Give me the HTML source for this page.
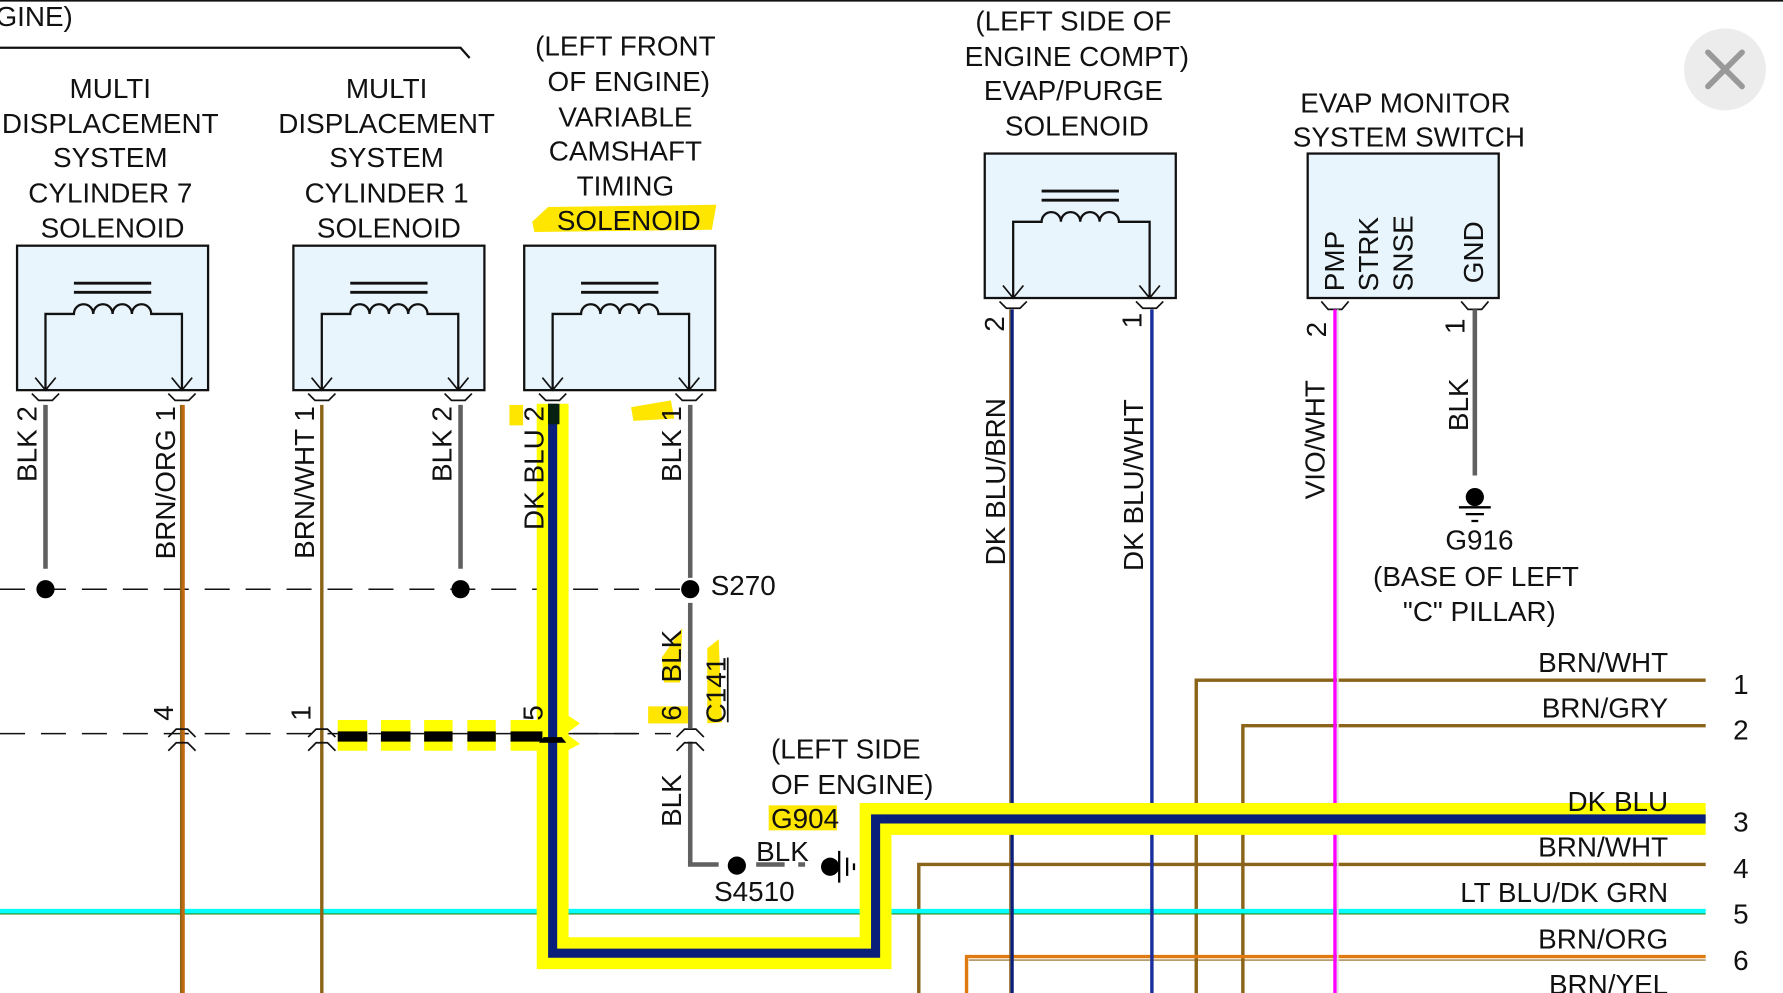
<!DOCTYPE html>
<html><head><meta charset="utf-8"><style>
html,body{margin:0;padding:0;background:#fff;overflow:hidden}
svg{display:block}
text{font-family:"Liberation Sans",sans-serif;font-size:24.5px;fill:#111}
</style></head><body>
<svg width="1783" height="993" viewBox="0 0 1568 873" preserveAspectRatio="none" xmlns="http://www.w3.org/2000/svg">
<defs>
<g id="sol">
<rect x="0" y="0" width="168" height="127" fill="#e8f5fd" stroke="#111" stroke-width="2"/>
<line x1="50" y1="33" x2="118" y2="33" stroke="#111" stroke-width="2.5"/>
<line x1="50" y1="41" x2="118" y2="41" stroke="#111" stroke-width="2.5"/>
<path d="M25 127 V60 H50 a8.5 8.5 0 0 1 17 0 a8.5 8.5 0 0 1 17 0 a8.5 8.5 0 0 1 17 0 a8.5 8.5 0 0 1 17 0 H145 V127" fill="none" stroke="#111" stroke-width="2"/>
<path d="M16 116 L25 127 L34 116 M136 116 L145 127 L154 116" fill="none" stroke="#111" stroke-width="1.5"/>
<path d="M13 130 L19 136 H31 L37 130 M133 130 L139 136 H151 L157 130" fill="none" stroke="#111" stroke-width="1.5"/>
</g>
</defs>
<line x1="0" y1="0.7" x2="1568" y2="0.7" stroke="#111" stroke-width="1.5"/>
<text x="-4" y="23">GINE)</text>
<path d="M0 42 H405 L413 51" fill="none" stroke="#111" stroke-width="2"/>

<g text-anchor="middle">
<text x="97" y="86">MULTI</text><text x="97" y="117">DISPLACEMENT</text><text x="97" y="147">SYSTEM</text><text x="97" y="178">CYLINDER 7</text><text x="99" y="209">SOLENOID</text>
<text x="340" y="86">MULTI</text><text x="340" y="117">DISPLACEMENT</text><text x="340" y="147">SYSTEM</text><text x="340" y="178">CYLINDER 1</text><text x="342" y="209">SOLENOID</text>
<text x="550" y="49">(LEFT FRONT</text><text x="553" y="80">OF ENGINE)</text><text x="550" y="111">VARIABLE</text><text x="550" y="141">CAMSHAFT</text><text x="550" y="172">TIMING</text>
<path d="M468 195 L482 182 L630 180 L626 202 L470 204 Z" fill="#ffe600"/>
<text x="553" y="202">SOLENOID</text>
<text x="944" y="27">(LEFT SIDE OF</text><text x="947" y="58">ENGINE COMPT)</text><text x="944" y="88">EVAP/PURGE</text><text x="947" y="119">SOLENOID</text>
<text x="1236" y="99">EVAP MONITOR</text><text x="1239" y="129">SYSTEM SWITCH</text>
</g>

<use href="#sol" x="15" y="216"/>
<use href="#sol" x="258" y="216"/>
<use href="#sol" x="461" y="216"/>
<use href="#sol" x="866" y="135"/>
<rect x="1150" y="135" width="168" height="127" fill="#e8f5fd" stroke="#111" stroke-width="2"/>
<path d="M1162 265 L1168 272 H1180 L1186 265 M1285 265 L1291 272 H1303 L1309 265" fill="none" stroke="#111" stroke-width="1.5"/>

<line x1="0" y1="518" x2="600" y2="518" stroke="#111" stroke-width="1.3" stroke-dasharray="22,14"/>
<line x1="0" y1="645" x2="590" y2="645" stroke="#111" stroke-width="1.3" stroke-dasharray="22,14"/>

<path d="M1052 873 V598 H1500" fill="none" stroke="#8a6418" stroke-width="3"/>
<path d="M1093 873 V638 H1500" fill="none" stroke="#8a6418" stroke-width="3"/>
<path d="M808 873 V760 H1500" fill="none" stroke="#8a6418" stroke-width="3"/>
<line x1="0" y1="801" x2="1500" y2="801" stroke="#00ffff" stroke-width="4"/>
<line x1="0" y1="803.5" x2="1500" y2="803.5" stroke="#1a8a1a" stroke-width="1"/>
<path d="M850 873 V841 H1500" fill="none" stroke="#e07a10" stroke-width="3"/>
<line x1="852" y1="844" x2="1500" y2="844" stroke="#8a6418" stroke-width="1"/>

<line x1="40" y1="356" x2="40" y2="500" stroke="#606060" stroke-width="4"/>
<line x1="161" y1="356" x2="161" y2="873" stroke="#c06a10" stroke-width="3"/>
<line x1="159" y1="356" x2="159" y2="873" stroke="#8a6418" stroke-width="1.5"/>
<line x1="283" y1="356" x2="283" y2="873" stroke="#8a6418" stroke-width="3"/>
<line x1="405" y1="356" x2="405" y2="500" stroke="#606060" stroke-width="4"/>
<line x1="607" y1="356" x2="607" y2="508" stroke="#606060" stroke-width="4"/>
<line x1="607" y1="530" x2="607" y2="640" stroke="#606060" stroke-width="4"/>
<path d="M607 652 V760 H632" fill="none" stroke="#606060" stroke-width="4"/>
<line x1="665" y1="760" x2="720" y2="760" stroke="#606060" stroke-width="4" stroke-dasharray="25,12,6,12"/>
<line x1="890" y1="272" x2="890" y2="873" stroke="#0a1f7a" stroke-width="3"/>
<line x1="888" y1="272" x2="888" y2="873" stroke="#8a6418" stroke-width="1"/>
<line x1="1013" y1="272" x2="1013" y2="873" stroke="#1a2e9a" stroke-width="3"/>
<line x1="1174" y1="272" x2="1174" y2="873" stroke="#ff00ff" stroke-width="3"/>
<line x1="1176.5" y1="272" x2="1176.5" y2="873" stroke="#ddd" stroke-width="1.5"/>
<line x1="1297" y1="272" x2="1297" y2="418" stroke="#606060" stroke-width="4"/>

<path d="M486 355 V838 H770 V720 H1500" fill="none" stroke="#ffff00" stroke-width="28"/>
<path d="M486 355 V838 H770 V720 H1500" fill="none" stroke="#0a1f7a" stroke-width="8"/>
<rect x="482" y="355" width="10" height="18" fill="#062012"/>

<circle cx="40" cy="518" r="8" fill="#000"/>
<circle cx="405" cy="518" r="8" fill="#000"/>
<circle cx="607" cy="518" r="8" fill="#000"/>
<circle cx="648" cy="761" r="8" fill="#000"/>
<text x="625" y="523">S270</text>
<text x="628" y="792">S4510</text>
<circle cx="730" cy="762" r="8" fill="#000"/>
<path d="M738 748 V776 M745 754 V770 M751 759 V765" stroke="#000" stroke-width="2"/>
<circle cx="1297" cy="437" r="8" fill="#000"/>
<path d="M1283 446 H1311 M1289 452 H1305 M1294 458 H1300" stroke="#000" stroke-width="2"/>
<text x="1301" y="483" text-anchor="middle">G916</text>
<text x="1298" y="515" text-anchor="middle">(BASE OF LEFT</text>
<text x="1301" y="546" text-anchor="middle">"C" PILLAR)</text>

<path d="M148 648 L155 641 H165 L172 648 M148 660 L155 653 H165 L172 660" fill="none" stroke="#111" stroke-width="1.5"/>
<path d="M271 648 L278 641 H288 L295 648 M271 660 L278 653 H288 L295 660" fill="none" stroke="#111" stroke-width="1.5"/>
<path d="M595 648 L602 641 H612 L619 648 M595 660 L602 653 H612 L619 660" fill="none" stroke="#111" stroke-width="1.5"/>
<g fill="#ffff00">
<rect x="297" y="633" width="26" height="27"/><rect x="335" y="633" width="26" height="27"/><rect x="373" y="633" width="25" height="27"/><rect x="411" y="633" width="25" height="27"/><rect x="449" y="633" width="28" height="27"/>
<path d="M495 626 L510 636 L498 645 L510 654 L495 662 Z"/>
</g>
<g fill="#000">
<rect x="297" y="643" width="26" height="9"/><rect x="335" y="643" width="26" height="9"/><rect x="373" y="643" width="25" height="9"/><rect x="411" y="643" width="25" height="9"/><rect x="449" y="643" width="28" height="9"/>
<path d="M474 653 L478 648 H494 L498 653 Z"/>
</g>
<line x1="500" y1="645" x2="560" y2="645" stroke="#111" stroke-width="1.3"/>

<g fill="#ffe600">
<rect x="448" y="356" width="12" height="18"/>
<path d="M555 358 L590 352 L593 368 L557 370 Z"/>
<path d="M582 578 L600 552 L598 600 L584 600 Z"/>
<path d="M622 570 L632 562 L635 635 L622 636 Z"/>
<rect x="570" y="621" width="35" height="15"/>
<rect x="676" y="708" width="60" height="22"/>
</g>

<g>
<text transform="translate(32,357) rotate(-90)" text-anchor="end">BLK 2</text>
<text transform="translate(154,357) rotate(-90)" text-anchor="end">BRN/ORG 1</text>
<text transform="translate(276,357) rotate(-90)" text-anchor="end">BRN/WHT 1</text>
<text transform="translate(397,357) rotate(-90)" text-anchor="end">BLK 2</text>
<text transform="translate(478,357) rotate(-90)" text-anchor="end">DK BLU 2</text>
<text transform="translate(599,357) rotate(-90)" text-anchor="end">BLK 1</text>
<text transform="translate(152,620) rotate(-90)" text-anchor="end">4</text>
<text transform="translate(273,620) rotate(-90)" text-anchor="end">1</text>
<text transform="translate(477,620) rotate(-90)" text-anchor="end">5</text>
<text transform="translate(599,620) rotate(-90)" text-anchor="end">6</text>
<text transform="translate(599,600) rotate(-90)">BLK</text>
<text transform="translate(638,636) rotate(-90)">C141</text>
<text transform="translate(599,727) rotate(-90)">BLK</text>
<text transform="translate(883,278) rotate(-90)" text-anchor="end">2</text>
<text transform="translate(884,497) rotate(-90)">DK BLU/BRN</text>
<text transform="translate(1004,275) rotate(-90)" text-anchor="end">1</text>
<text transform="translate(1005,502) rotate(-90)">DK BLU/WHT</text>
<text transform="translate(1166,283) rotate(-90)" text-anchor="end">2</text>
<text transform="translate(1165,439) rotate(-90)">VIO/WHT</text>
<text transform="translate(1288,280) rotate(-90)" text-anchor="end">1</text>
<text transform="translate(1291,379) rotate(-90)">BLK</text>
<text transform="translate(1182,256) rotate(-90)">PMP</text>
<text transform="translate(1212,256) rotate(-90)">STRK</text>
<text transform="translate(1242,256) rotate(-90)">SNSE</text>
<text transform="translate(1304,249) rotate(-90)">GND</text>
</g>
<line x1="640" y1="578" x2="640" y2="635" stroke="#111" stroke-width="1.5"/>

<text x="678" y="667">(LEFT SIDE</text>
<text x="678" y="698">OF ENGINE)</text>
<text x="678" y="728">G904</text>
<text x="665" y="757">BLK</text>

<g text-anchor="end">
<text x="1467" y="591">BRN/WHT</text>
<text x="1467" y="631">BRN/GRY</text>
<text x="1467" y="713">DK BLU</text>
<text x="1467" y="753">BRN/WHT</text>
<text x="1467" y="793">LT BLU/DK GRN</text>
<text x="1467" y="834">BRN/ORG</text>
<text x="1467" y="874">BRN/YEL</text>
</g>
<g text-anchor="middle">
<text x="1531" y="610">1</text><text x="1531" y="650">2</text><text x="1531" y="731">3</text><text x="1531" y="772">4</text><text x="1531" y="812">5</text><text x="1531" y="853">6</text>
</g>

<circle cx="1517" cy="61" r="36" fill="#ececec"/>
<path d="M1502 46 L1532 76 M1532 46 L1502 76" stroke="#999" stroke-width="5" stroke-linecap="round"/>
</svg>
</body></html>
